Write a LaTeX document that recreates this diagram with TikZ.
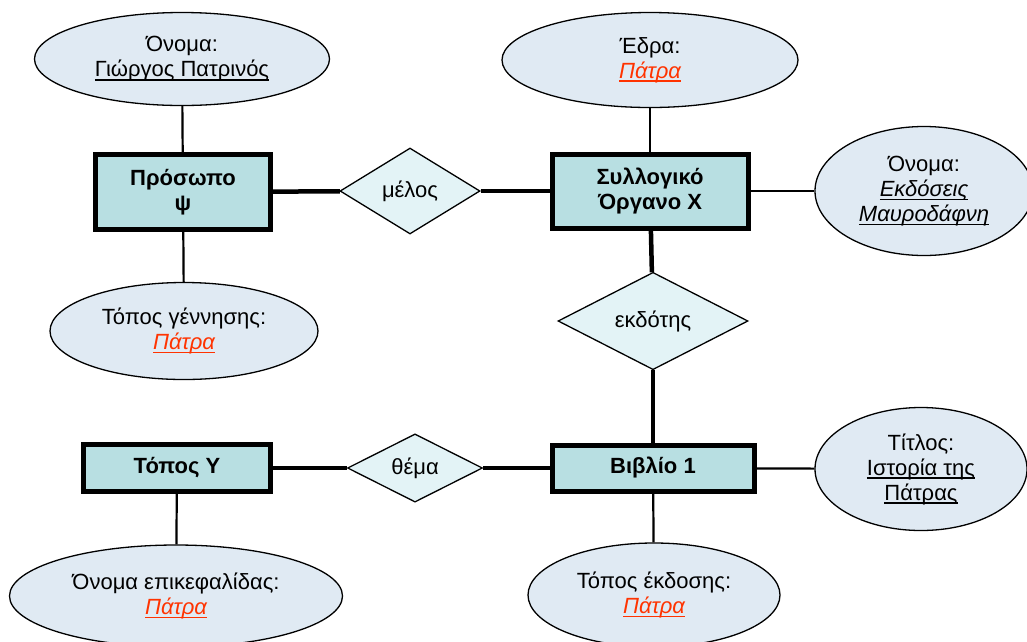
\documentclass[tikz,border=0pt]{standalone}
\usepackage{fontspec}
\setmainfont{Liberation Sans}
\usetikzlibrary{shapes.geometric}
\definecolor{attrfill}{HTML}{E0EAF3}
\definecolor{entfill}{HTML}{B8DFE2}
\definecolor{relfill}{HTML}{E3F3F6}
\definecolor{valred}{HTML}{FF3300}
\newcommand{\myul}[1]{\setbox0=\hbox{#1}\leavevmode\rlap{\copy0}\rule[-3.6pt]{\wd0}{1.5pt}}
\newcommand{\redval}[1]{{\color{valred}\itshape\myul{#1}}}
\tikzset{
  attr/.style={ellipse, draw=black, line width=1.3pt, fill=attrfill, inner sep=0pt, align=center,
    font=\fontsize{22}{25}\selectfont},
  entity/.style={rectangle, draw=black, line width=5pt, fill=entfill, inner sep=0pt, align=center,
    font=\fontsize{22}{25}\selectfont\bfseries},
  rel/.style={diamond, draw=black, line width=1.3pt, fill=relfill, inner sep=0pt, align=center,
    font=\fontsize{22}{25}\selectfont},
  thin link/.style={line width=2.2pt},
  thick link/.style={line width=4.5pt},
}
\begin{document}
\begin{tikzpicture}[x=1pt,y=-1pt]
\useasboundingbox (0,0) rectangle (1027,641);
% entities
\node[entity, minimum width=175pt, minimum height=75pt] (p) at (183,192) {Πρόσωπο\\ψ};
\node[entity, minimum width=196pt, minimum height=74pt] (s) at (650,191) {Συλλογικό\\Όργανο Χ};
\node[entity, minimum width=202pt, minimum height=46pt] (b) at (653,468) {Βιβλίο 1};
\node[entity, minimum width=187pt, minimum height=47pt] (t) at (177,468) {Τόπος Υ};
% relationships
\node[rel, minimum width=140pt, minimum height=86pt] (m) at (410,191) {μέλος};
\node[rel, minimum width=190pt, minimum height=85pt] (e) at (653,321) {εκδότης};
\node[rel, minimum width=135pt, minimum height=67pt] (th) at (415,468) {θέμα};
% attributes
\node[attr, minimum width=295pt, minimum height=93pt] (a1) at (182,59) {Όνομα:\\\myul{Γιώργος Πατρινός}};
\node[attr, minimum width=268pt, minimum height=97pt] (a2) at (184,331) {Τόπος γέννησης:\\\redval{Πάτρα}};
\node[attr, minimum width=296pt, minimum height=95pt] (a3) at (650,60) {Έδρα:\\\redval{Πάτρα}};
\node[attr, minimum width=218pt, minimum height=129pt] (a4) at (924,191) {Όνομα:\\{\itshape\myul{Εκδόσεις}}\\{\itshape\myul{Μαυροδάφνη}}};
\node[attr, minimum width=212pt, minimum height=123pt] (a5) at (921,469) {Τίτλος:\\\myul{Ιστορία της}\\\myul{Πάτρας}};
\node[attr, minimum width=252pt, minimum height=104pt] (a6) at (654,595) {Τόπος έκδοσης:\\\redval{Πάτρα}};
\node[attr, minimum width=333pt, minimum height=102pt] (a7) at (176,596) {Όνομα επικεφαλίδας:\\\redval{Πάτρα}};
% thin links
\draw[thin link] (a1) -- (p);
\draw[thin link] (p) -- (a2);
\draw[thin link] (a3) -- (s);
\draw[thin link] (s) -- (a4);
\draw[thin link] (b) -- (a5);
\draw[thin link] (b) -- (a6);
\draw[thin link] (t) -- (a7);
% thick links
\draw[thick link] (p) -- (m);
\draw[thick link] (m) -- (s);
\draw[thick link] (s) -- (e);
\draw[thick link] (e) -- (b);
\draw[thick link] (t) -- (th);
\draw[thick link] (th) -- (b);
\end{tikzpicture}
\end{document}
